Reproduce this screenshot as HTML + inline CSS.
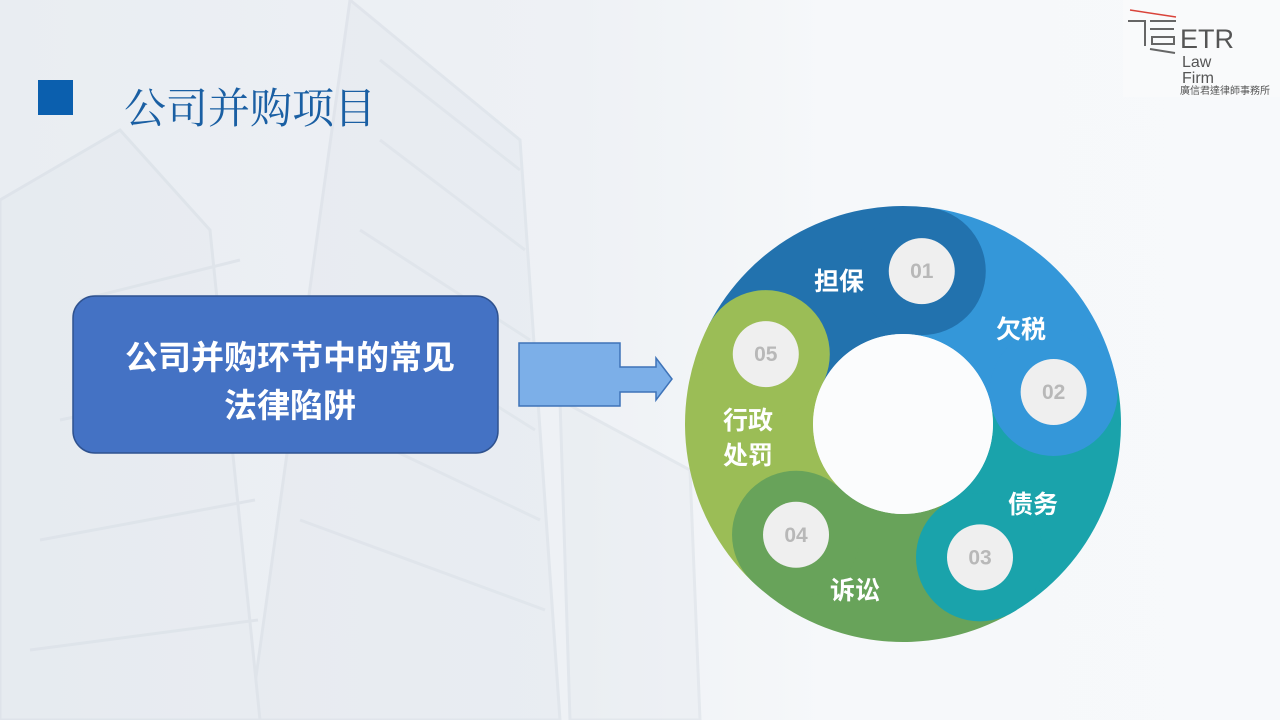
<!DOCTYPE html>
<html><head><meta charset="utf-8"><style>
body{margin:0;width:1280px;height:720px;overflow:hidden;font-family:"Liberation Sans","Noto Sans CJK SC",sans-serif;}
.bg{position:absolute;left:0;top:0;width:1280px;height:720px;background:linear-gradient(90deg,#e9edf2 0%,#eef1f5 45%,#f6f8fa 65%,#f7f9fb 100%);}
</style></head><body>
<div class="bg"></div>
<svg width="1280" height="720" style="position:absolute;left:0;top:0">
  <g opacity="0.3" fill="none" stroke="#c5ced8" stroke-width="3">
    <polygon points="350,0 520,140 560,720 250,720" fill="#dfe5ec"/>
    <polygon points="0,200 120,130 210,230 260,720 0,720" fill="#e2e7ed"/>
    <line x1="380" y1="60" x2="520" y2="170"/><line x1="380" y1="140" x2="525" y2="250"/>
    <line x1="360" y1="230" x2="530" y2="340"/><line x1="360" y1="320" x2="535" y2="430"/>
    <line x1="330" y1="420" x2="540" y2="520"/><line x1="300" y1="520" x2="545" y2="610"/>
    <line x1="80" y1="300" x2="240" y2="260"/><line x1="60" y1="420" x2="250" y2="380"/>
    <line x1="40" y1="540" x2="255" y2="500"/><line x1="30" y1="650" x2="258" y2="620"/>
    <polygon points="560,400 690,470 700,720 570,720" fill="#e4e9ee"/>
  </g>
  <rect x="38" y="80" width="35" height="35" fill="#0b5fae"/>
  <text x="124" y="123" font-family="'Liberation Serif','Noto Serif CJK SC',serif" font-size="42" fill="#1a5fa3">公司并购项目</text>
  <rect x="1123" y="0" width="157" height="97" fill="#f9fafb"/>
  <line x1="1130" y1="10" x2="1176" y2="17" stroke="#d9433a" stroke-width="1.5"/>
  <path d="M1128 21 H1145 V46 M1150 21 H1176 M1150 29 H1174 M1152 37 H1174 V44 H1152 Z M1150 49 L1175 53" stroke="#666" stroke-width="2" fill="none"/>
  <text x="1180" y="48" font-size="27" fill="#555">ETR</text>
  <text x="1182" y="67" font-size="16" fill="#555">Law</text>
  <text x="1182" y="83" font-size="16" fill="#555">Firm</text>
  <text x="1180" y="94" font-size="10" fill="#555" font-family="'Liberation Sans','Noto Sans CJK TC',sans-serif">廣信君達律師事務所</text>
  <rect x="73" y="296" width="425" height="157" rx="22" fill="#4472c4" stroke="#2f528f" stroke-width="1.5"/>
  <text x="290" y="369" text-anchor="middle" font-size="33" font-weight="bold" fill="#fff">公司并购环节中的常见</text>
  <text x="290" y="417" text-anchor="middle" font-size="33" font-weight="bold" fill="#fff">法律陷阱</text>
  <path d="M519 343 H620 V367 H656 V358 L672 379 L656 400 V392 H620 V406 H519 Z" fill="#7cafe8" stroke="#3e73b8" stroke-width="1.5"/>
  <g id="ring"></g>
  <g font-weight="bold" font-size="25" fill="#fff">
    <text x="839" y="290" text-anchor="middle">担保</text>
    <text x="1021" y="338" text-anchor="middle">欠税</text>
    <text x="1033" y="513" text-anchor="middle">债务</text>
    <text x="855" y="599" text-anchor="middle">诉讼</text>
    <text x="748" y="429" text-anchor="middle">行政</text>
    <text x="748" y="464" text-anchor="middle">处罚</text>
  </g>
</svg>
<script>
(function(){
var cx=903,cy=424,R=218,r=90,m=154,hr=64;
var heads=[277,348,60,134,207];
var cols=["#2272ae","#3497d9","#1aa3ab","#68a35a","#9bbd56"];
function p(a,rad){a=a*Math.PI/180;return [cx+rad*Math.cos(a),cy+rad*Math.sin(a)];}
var s="";
for(var i=0;i<5;i++){
  var a1=heads[(i+4)%5],a2=heads[i]; if(a2<a1)a2+=360;
  var o1=p(a1,R),o2=p(a2,R),i2=p(a2,r),i1=p(a1,r);
  s+='<path d="M'+o1+' A'+R+' '+R+' 0 0 1 '+o2+' L'+i2+' A'+r+' '+r+' 0 0 0 '+i1+' Z" fill="'+cols[i]+'"/>';
}
var nums=["01","02","03","04","05"];
for(var i=0;i<5;i++){
  var c=p(heads[i],m);
  s+='<circle cx="'+c[0]+'" cy="'+c[1]+'" r="'+hr+'" fill="'+cols[i]+'"/>';
}
for(var i=0;i<5;i++){
  var c=p(heads[i],m);
  s+='<circle cx="'+c[0]+'" cy="'+c[1]+'" r="33" fill="#efefef"/><text x="'+c[0]+'" y="'+(c[1]+7)+'" text-anchor="middle" font-size="21" font-weight="bold" fill="#b8b8b8" font-family="Liberation Sans,sans-serif">'+nums[i]+'</text>';
}
s+='<circle cx="'+cx+'" cy="'+cy+'" r="'+r+'" fill="#fbfcfd"/>';
document.getElementById("ring").innerHTML=s;
})();
</script>
</body></html>
